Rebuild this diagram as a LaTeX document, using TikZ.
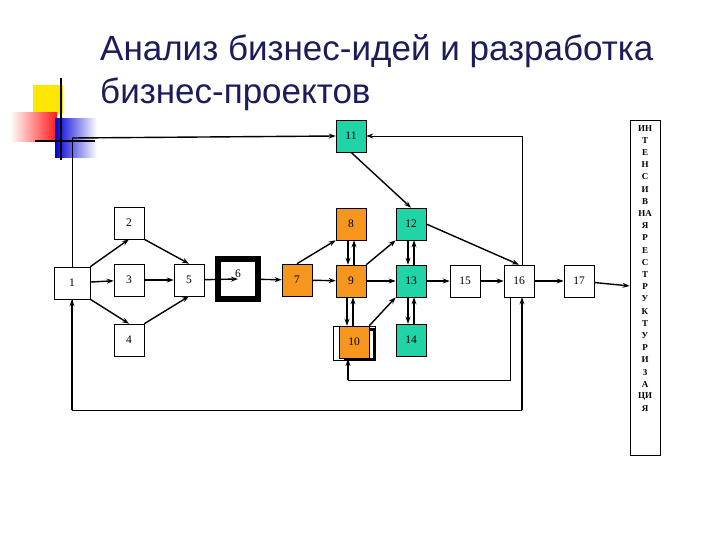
\documentclass[tikz,border=0pt]{standalone}
\usepackage{fontspec}
\setmainfont{Liberation Serif}
\newfontfamily\titlefont{Liberation Sans}
\usetikzlibrary{arrows.meta}
\definecolor{org}{HTML}{F5961E}
\definecolor{tea}{HTML}{20D4A8}
\definecolor{ttl}{HTML}{1C1C5A}
\begin{document}
\begin{tikzpicture}[x=1pt,y=-1pt,
  bx/.style={draw,fill=white,minimum width=30pt,minimum height=32pt,inner sep=0pt,font=\fontsize{11.5}{11.5}\selectfont,line width=0.6pt},
  ob/.style={bx,fill=org},
  tb/.style={bx,fill=tea},
  ar/.style={-{Stealth[length=7pt,width=5pt]},line width=1.4pt},
  ln/.style={line width=0.7pt}]
\useasboundingbox (0,0) rectangle (720,540);
% decoration
\fill[yellow!90!orange] (33,85) rectangle (63,114);
\shade[left color=white,right color=red!90] (10,113) rectangle (57,142);
\shade[left color=blue!85!black,right color=white] (55,119) rectangle (97,158);
\draw[line width=1.4pt] (61,78) -- (61,160);
\draw[line width=1.4pt] (35,141) -- (95,141);
% title
\node[anchor=base west,inner sep=0pt,text=ttl,font=\titlefont\fontsize{35}{35}\selectfont] (t1) at (100,61) {Анализ бизнес-идей и разработка};
\node[anchor=base west,inner sep=0pt,text=ttl,font=\titlefont\fontsize{35}{35}\selectfont] (t2) at (100,104) {бизнес-проектов};
% loops
\coordinate (c1) at (72,410);
\coordinate (c2) at (522,410);
\coordinate (c3) at (72,138);
\coordinate (d1) at (510,380);
\coordinate (d2) at (348,380);
\draw[ln] (c1) -- (c3);
\draw[ln] (c1) -- (c2);
% nodes
\node[bx,minimum width=36pt] (n1) at (72,283) {1};
\node[bx] (n2) at (129,223) {2};
\node[bx] (n3) at (129,280) {3};
\node[bx] (n4) at (129,340) {4};
\node[bx] (n5) at (189,280) {5};
\node[draw,line width=6pt,minimum width=40pt,minimum height=40pt,inner sep=0pt,font=\fontsize{11.5}{11.5}\selectfont] (n6) at (238,279) {\raisebox{10pt}{6}};
\node[ob] (n7) at (297,280) {7};
\node[ob] (n8) at (351,224) {8};
\node[ob] (n9) at (351,281) {9};
\draw[line width=3pt] (345,329) rectangle (374,359);
\draw[line width=0.6pt] (333,326) rectangle (375,360);
\node[ob] (n10) at (354,342) {10};
\node[tb] (n11) at (351,136) {11};
\node[tb] (n12) at (411,224) {12};
\node[tb] (n13) at (411,281) {13};
\node[tb] (n14) at (411,340) {14};
\node[bx] (n15) at (465,281) {15};
\node[bx] (n16) at (519,281) {16};
\node[bx] (n17) at (579,281) {17};
\node[draw,line width=0.7pt,minimum width=30pt,minimum height=335pt,inner sep=0pt] (big) at (645,287.5) {};
\foreach \s [count=\i] in {ИН,Т,Е,Н,С,И,В,НА,Я,Р,Е,С,Т,Р,У,К,Т,У,Р,И,З,А,ЦИ,Я}
  \node[font=\bfseries\fontsize{9}{9}\selectfont,inner sep=0pt] (v\i) at (645,116+12.2*\i) {\s};
% edges
\draw[ar] (n1.north east) -- (n2.south);
\draw[ar] (n1) -- (n3);
\draw[ar] (n1.south east) -- (n4.north);
\draw[ar] (n2.south east) -- (n5.north);
\draw[ar] (n3) -- (n5);
\draw[ar] (n4.north east) -- (n5.south);
\draw[ar] (n5) -- (n6.center);
\draw[ar] (n6) -- (n7);
\draw[ar] (n7.north) -- (n8.south west);
\draw[ar] (n7) -- (n9);
\draw[ar] ([xshift=-3pt]n8.south) -- ([xshift=-3pt]n9.north);
\draw[ar] ([xshift=3pt]n9.north) -- ([xshift=3pt]n8.south);
\draw[ar] ([xshift=-4pt]n9.south) -- ([xshift=-7pt]n10.north);
\draw[ar] ([xshift=-1pt]n10.north) -- ([xshift=2pt]n9.south);
\draw[ar] (n9.north east) -- (n12.south west);
\draw[ar] (n10.north east) -- (n13.south west);
\draw[ar] (n9) -- (n13);
\draw[ar] (n11.south) -- (n12.north);
\draw[ar] ([xshift=-3pt]n12.south) -- ([xshift=-3pt]n13.north);
\draw[ar] ([xshift=3pt]n13.north) -- ([xshift=3pt]n12.south);
\draw[ar] ([xshift=-3pt]n13.south) -- ([xshift=-3pt]n14.north);
\draw[ar] ([xshift=3pt]n14.north) -- ([xshift=3pt]n13.south);
\draw[ar] (n13) -- (n15);
\draw[ar] (n15) -- (n16);
\draw[ar] (n12.east) -- (n16.north);
\draw[ar] (n16) -- (n17);
\draw[ar] (n17) -- (big);
\draw[ar] (c3) -- (n11.west);
\draw[ar] (c1) -- (n1.south);
\draw[ar] (c2) -- ([xshift=3pt]n16.south);
\draw[ar,line width=0.8pt] ([xshift=3pt]n16.north) |- (n11.east);
\draw[ln] ([xshift=-9pt]n16.south) -- (d1) -- (d2);
\draw[ar] (d2) -- (348,359);
\end{tikzpicture}
\end{document}
